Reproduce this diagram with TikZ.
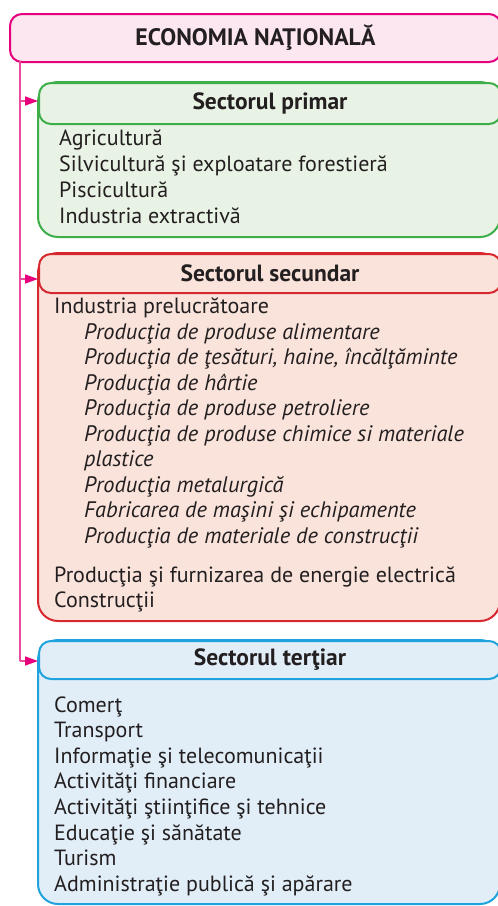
\documentclass[tikz,border=0pt]{standalone}
\usepackage{fontspec}
\setmainfont{PT Sans}
\usetikzlibrary{arrows.meta}
\definecolor{txt}{HTML}{231F20}
\definecolor{pinkS}{HTML}{E6007E}
\definecolor{pinkL}{HTML}{EC4A9C}
\definecolor{pinkF}{HTML}{FCE6EF}
\definecolor{greenS}{HTML}{3DAE49}
\definecolor{greenF}{HTML}{E9F3E5}
\definecolor{redS}{HTML}{D7282F}
\definecolor{redF}{HTML}{F9E3DB}
\definecolor{blueS}{HTML}{1FA3DC}
\definecolor{blueF}{HTML}{E1EEF8}
\tikzset{
  body/.style={line width=2pt, rounded corners=20pt},
  hdr/.style={line width=2pt, rounded corners=12pt, anchor=north west, minimum width=462pt, inner sep=0pt, font=\fontsize{23.5}{24}\selectfont\bfseries, text=txt},
  item/.style={anchor=base west, inner sep=0pt, text=txt},
  sub/.style={item, font=\fontsize{22.4}{24}\selectfont\itshape},
  link/.style={draw=pinkL, line width=1.5pt},
  arr/.style={link, -{Triangle[length=13pt,width=9pt,fill=pinkS,color=pinkS]}}
}
\begin{document}
\begin{tikzpicture}[x=1pt,y=-1pt,font=\fontsize{22}{24}\selectfont]
\useasboundingbox (0,0) rectangle (498,906);
\clip (0,0) rectangle (498,906);
% title
\node[draw=pinkS, fill=pinkF, line width=2pt, rounded corners=12pt, anchor=north west,
  minimum width=491pt, minimum height=48pt, inner sep=0pt, text=txt,
  font=\fontsize{23.8}{24}\selectfont\bfseries] (eco) at (9,13) {ECONOMIA NAŢIONALĂ};
% primary
\draw[body, draw=greenS, fill=greenF] (38,82) rectangle (500,237);
\node[hdr, draw=greenS, fill=greenF, minimum height=41pt] (prim) at (38,82) {Sectorul primar};
\node[item] (p1) at (59,145) {Agricultură};
\node[item] (p2) at (59,171) {Silvicultură şi exploatare forestieră};
\node[item] (p3) at (59,197) {Piscicultură};
\node[item] (p4) at (59,223) {Industria extractivă};
% secondary
\draw[body, draw=redS, fill=redF] (38,253) rectangle (500,621);
\node[hdr, draw=redS, fill=redF, minimum height=39pt] (sec) at (38,253) {Sectorul secundar};
\node[item] (s1) at (54,313) {Industria prelucrătoare};
\node[sub] (s2) at (84,339) {Producţia de produse alimentare};
\node[sub] (s3) at (84,364.5) {Producţia de ţesături, haine, încălţăminte};
\node[sub] (s4) at (84,390) {Producţia de hârtie};
\node[sub] (s5) at (84,415.5) {Producţia de produse petroliere};
\node[sub] (s6) at (84,441) {Producţia de produse chimice si materiale};
\node[sub] (s7) at (84,466.5) {plastice};
\node[sub] (s8) at (84,492) {Producţia metalurgică};
\node[sub] (s9) at (84,517.5) {Fabricarea de maşini şi echipamente};
\node[sub] (s10) at (84,543) {Producţia de materiale de construcţii};
\node[item] (s11) at (54,582) {Producţia şi furnizarea de energie electrică};
\node[item] (s12) at (54,607.5) {Construcţii};
% tertiary
\draw[body, draw=blueS, fill=blueF] (38,640) rectangle (500,904);
\node[hdr, draw=blueS, fill=blueF, minimum height=38pt] (ter) at (38,640) {Sectorul terţiar};
\node[item] (t1) at (54,712) {Comerţ};
\node[item] (t2) at (54,737.6) {Transport};
\node[item] (t3) at (54,763.2) {Informaţie şi telecomunicaţii};
\node[item] (t4) at (54,788.8) {Activităţi financiare};
\node[item] (t5) at (54,814.4) {Activităţi ştiinţifice şi tehnice};
\node[item] (t6) at (54,840) {Educaţie şi sănătate};
\node[item] (t7) at (54,865.6) {Turism};
\node[item] (t8) at (54,891.2) {Administraţie publică şi apărare};
% connectors
\coordinate (v0) at (20,61);
\coordinate (a1) at (20,101);
\coordinate (a2) at (20,279);
\coordinate (a3) at (20,661);
\draw[link] (v0) -- (a3);
\draw[arr] (a1) -- (a1 -| prim.west);
\draw[arr] (a2) -- (a2 -| sec.west);
\draw[arr] (a3) -- (a3 -| ter.west);
\end{tikzpicture}
\end{document}
